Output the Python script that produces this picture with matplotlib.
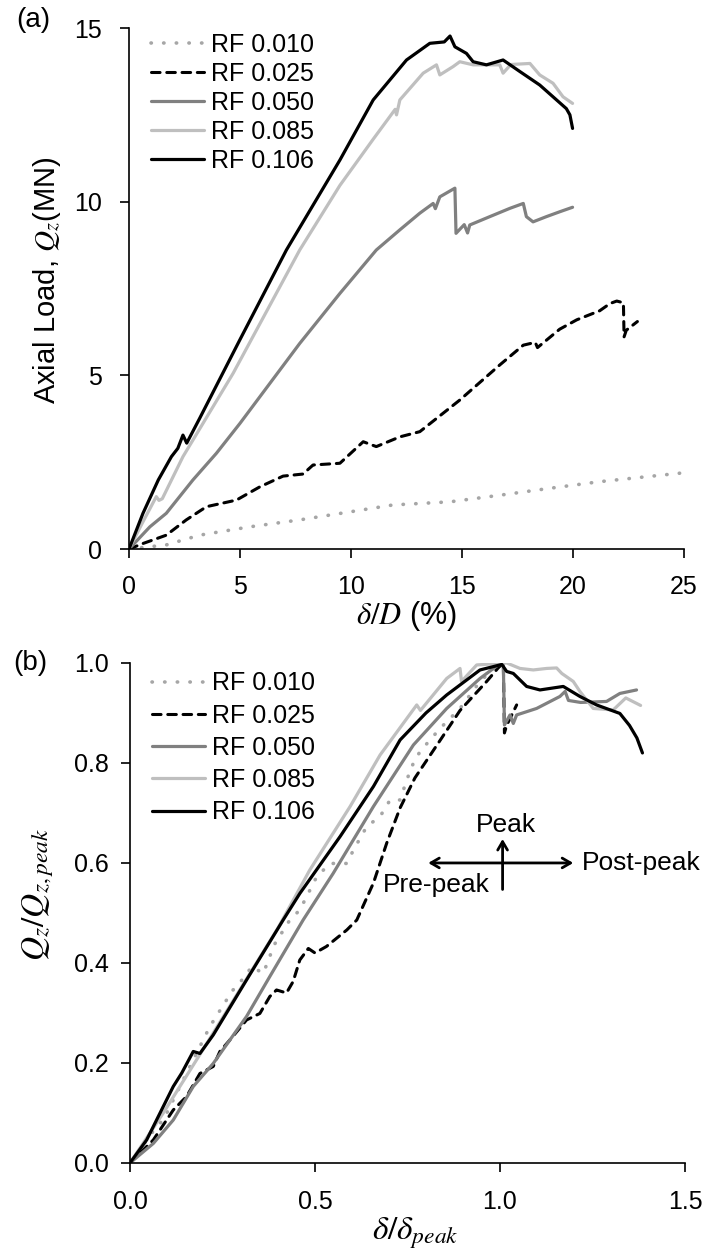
import matplotlib
matplotlib.use("Agg")
import matplotlib.pyplot as plt
from matplotlib.ticker import FormatStrFormatter

plt.rcParams['font.family'] = ['Liberation Sans', 'DejaVu Sans']
plt.rcParams['mathtext.fontset'] = 'stix'

labels = ['RF 0.010', 'RF 0.025', 'RF 0.050', 'RF 0.085', 'RF 0.106']
colors = ['#a6a6a6', 'black', '#808080', '#bfbfbf', 'black']

# (a) axial load vs normalised settlement
x010 = [0, 1.68, 3.18, 5.44, 7.69, 9.94, 11.89, 14.46, 16.7, 18.96, 21.2, 24.9]
y010 = [0, 0.12, 0.4, 0.64, 0.84, 1.07, 1.27, 1.36, 1.55, 1.75, 1.94, 2.19]

x025 = [0, 0.63, 1.68, 2.58, 3.49, 4.84, 5.89, 6.94, 7.84, 8.29, 9.5, 10.55, 11.14,
        12.2, 13.1, 14.9, 16.7, 17.76, 18.3, 18.4, 19.4, 20.17, 21.2, 21.67, 21.97,
        22.27, 22.3, 22.4, 22.9]
y025 = [0, 0.16, 0.4, 0.84, 1.22, 1.41, 1.79, 2.1, 2.16, 2.42, 2.47, 3.09, 2.95,
        3.23, 3.38, 4.29, 5.3, 5.87, 5.95, 5.8, 6.33, 6.6, 6.86, 7.07, 7.14,
        7.09, 6.11, 6.3, 6.55]

x050 = [0, 0.94, 1.68, 2.88, 3.94, 5.0, 7.69, 9.5, 11.14, 12.2, 13.1, 13.7, 13.8,
        14.0, 14.68, 14.73, 15.1, 15.25, 15.35, 16.25, 17.16, 17.76, 17.9, 18.2,
        18.8, 19.4, 19.98]
y050 = [0, 0.64, 1.03, 1.99, 2.76, 3.62, 5.92, 7.36, 8.61, 9.19, 9.67, 9.95, 9.8,
        10.14, 10.39, 9.09, 9.34, 9.1, 9.33, 9.57, 9.81, 9.95, 9.57, 9.42,
        9.57, 9.71, 9.84]

x085 = [0, 0.6, 1.23, 1.35, 1.5, 2.43, 4.69, 7.69, 9.5, 11.0, 11.99, 12.05, 12.2,
        13.25, 13.85, 14.0, 14.6, 14.9, 15.5, 16.7, 16.85, 17.2, 18.06, 18.5, 19.1,
        19.55, 19.98]
y085 = [0, 0.75, 1.51, 1.4, 1.45, 2.66, 5.06, 8.61, 10.47, 11.8, 12.66, 12.5, 12.93,
        13.7, 13.94, 13.65, 13.89, 14.03, 13.94, 13.94, 13.7, 13.95, 13.98, 13.65, 13.41,
        13.02, 12.83]

x106 = [0, 0.63, 1.32, 1.91, 2.2, 2.43, 2.6, 3.18, 4.99, 7.09, 9.5, 11.0, 12.5, 13.55,
        14.2, 14.46, 14.68, 15.2, 15.5, 16.1, 16.85, 17.6, 18.5, 19.1, 19.7, 19.86, 19.98]
y106 = [0, 1.03, 1.99, 2.66, 2.9, 3.28, 3.05, 3.76, 6.02, 8.61, 11.2, 12.93, 14.08, 14.56,
        14.6, 14.77, 14.46, 14.27, 14.03, 13.94, 14.08, 13.75, 13.36, 13.02, 12.68, 12.5, 12.11]

# (b) normalised by peak values
bx010 = [0, 0.072, 0.09, 0.216, 0.261, 0.275, 0.311, 0.329, 0.36, 0.378, 0.387, 0.432,
         0.459, 0.505, 0.541, 0.586, 0.604, 0.64, 0.676, 0.703, 0.73, 0.748, 0.766,
         0.784, 0.838, 0.892, 0.946, 1.0]
by010 = [0, 0.073, 0.086, 0.273, 0.326, 0.343, 0.373, 0.393, 0.379, 0.413, 0.433, 0.486,
         0.506, 0.573, 0.599, 0.599, 0.626, 0.673, 0.693, 0.726, 0.726, 0.766, 0.8,
         0.823, 0.869, 0.909, 0.963, 1.0]

bx025 = [0, 0.063, 0.117, 0.153, 0.189, 0.225, 0.243, 0.27, 0.315, 0.351, 0.378, 0.396,
         0.423, 0.441, 0.459, 0.482, 0.5, 0.531, 0.586, 0.613, 0.658, 0.694, 0.73, 0.77,
         0.838, 0.892, 0.964, 0.995, 1.009, 1.012, 1.018, 1.045]
by025 = [0, 0.046, 0.106, 0.133, 0.179, 0.193, 0.223, 0.246, 0.286, 0.299, 0.333, 0.346,
         0.34, 0.363, 0.406, 0.429, 0.42, 0.433, 0.466, 0.486, 0.56, 0.64, 0.71, 0.77,
         0.845, 0.905, 0.963, 0.99, 1.0, 0.86, 0.875, 0.916]

bx050 = [0, 0.063, 0.117, 0.171, 0.225, 0.315, 0.378, 0.468, 0.549, 0.658, 0.766, 0.856,
         0.946, 0.995, 1.009, 1.012, 1.027, 1.036, 1.045, 1.099, 1.162, 1.176, 1.185,
         1.218, 1.288, 1.324, 1.369]
by050 = [0, 0.039, 0.086, 0.153, 0.199, 0.293, 0.373, 0.486, 0.579, 0.713, 0.836, 0.909,
         0.969, 0.996, 0.998, 0.876, 0.896, 0.879, 0.896, 0.909, 0.933, 0.943, 0.925,
         0.921, 0.923, 0.939, 0.946]

bx085 = [0, 0.09, 0.2, 0.3, 0.4, 0.486, 0.595, 0.676, 0.775, 0.785, 0.856, 0.892, 0.896,
         0.937, 1.018, 1.054, 1.09, 1.126, 1.153, 1.167, 1.198, 1.216, 1.252, 1.306,
         1.34, 1.38]
by085 = [0, 0.1, 0.23, 0.35, 0.47, 0.586, 0.713, 0.816, 0.916, 0.905, 0.969, 0.989, 0.963,
         0.996, 1.0, 0.989, 0.986, 0.989, 0.99, 0.979, 0.963, 0.943, 0.909, 0.906,
         0.93, 0.915]

bx106 = [0, 0.045, 0.09, 0.117, 0.14, 0.171, 0.189, 0.225, 0.315, 0.414, 0.459, 0.568,
         0.658, 0.73, 0.8, 0.856, 0.946, 1.005, 1.018, 1.036, 1.072, 1.108, 1.171,
         1.216, 1.261, 1.324, 1.35, 1.37, 1.385]
by106 = [0, 0.046, 0.113, 0.153, 0.18, 0.223, 0.219, 0.256, 0.366, 0.486, 0.539, 0.653,
         0.753, 0.846, 0.9, 0.936, 0.986, 0.997, 0.983, 0.979, 0.953, 0.946, 0.953,
         0.933, 0.916, 0.899, 0.875, 0.85, 0.82]

top_series = [(x010, y010), (x025, y025), (x050, y050), (x085, y085), (x106, y106)]
bot_series = [(bx010, by010), (bx025, by025), (bx050, by050), (bx085, by085), (bx106, by106)]


def styled_plot(ax, x, y, i):
    if i == 0:
        ax.plot(x, y, color=colors[i], lw=2.6, linestyle=(0, (0.1, 3.4)),
                dash_capstyle='round', label=labels[i])
    elif i == 1:
        ax.plot(x, y, color=colors[i], lw=2.2, linestyle=(0, (2.8, 2.2)),
                dash_capstyle='round', label=labels[i])
    else:
        ax.plot(x, y, color=colors[i], lw=2.3, solid_capstyle='round', label=labels[i])


def style_axes(ax):
    ax.spines['top'].set_visible(False)
    ax.spines['right'].set_visible(False)
    ax.spines['left'].set_linewidth(1.2)
    ax.spines['bottom'].set_linewidth(1.2)
    ax.tick_params(direction='out', length=6.5, width=1.2, labelsize=18)


fig = plt.figure(figsize=(7.03, 12.57), dpi=100)

ax1 = fig.add_axes([0.1835, 0.5632, 0.7895, 0.4145])
for i, (x, y) in enumerate(top_series):
    styled_plot(ax1, x, y, i)
ax1.set_xlim(0, 25)
ax1.set_ylim(0, 15)
ax1.set_xticks([0, 5, 10, 15, 20, 25])
ax1.set_yticks([0, 5, 10, 15])
style_axes(ax1)
ax1.tick_params(axis='y', pad=13)
ax1.tick_params(axis='x', pad=12)
ax1.legend(loc='upper left', bbox_to_anchor=(0.04, 0.99), frameon=False, fontsize=18,
           handlelength=2.1, handletextpad=0.3, labelspacing=0.2, borderpad=0,
           borderaxespad=0)

ax2 = fig.add_axes([0.1849, 0.0748, 0.7895, 0.3978])
for i, (x, y) in enumerate(bot_series):
    styled_plot(ax2, x, y, i)
ax2.set_xlim(0, 1.5)
ax2.set_ylim(0, 1.0)
ax2.set_xticks([0, 0.5, 1.0, 1.5])
ax2.set_yticks([0, 0.2, 0.4, 0.6, 0.8, 1.0])
ax2.xaxis.set_major_formatter(FormatStrFormatter('%.1f'))
ax2.yaxis.set_major_formatter(FormatStrFormatter('%.1f'))
style_axes(ax2)
ax2.tick_params(axis='y', pad=9)
ax2.tick_params(axis='x', pad=13)
ax2.legend(loc='upper left', bbox_to_anchor=(0.04, 0.983), frameon=False, fontsize=18,
           handlelength=2.1, handletextpad=0.3, labelspacing=0.33, borderpad=0,
           borderaxespad=0)

# peak annotation
ax2.annotate('', xy=(0.806, 0.6), xytext=(1.198, 0.6),
             arrowprops=dict(arrowstyle='<->, head_length=0.6, head_width=0.35',
                             color='black', lw=2, shrinkA=0, shrinkB=0))
ax2.annotate('', xy=(1.007, 0.648), xytext=(1.007, 0.547),
             arrowprops=dict(arrowstyle='->, head_length=0.6, head_width=0.35',
                             color='black', lw=2, shrinkA=0, shrinkB=0))
ax2.text(1.016, 0.676, 'Peak', fontsize=19, ha='center', va='center')
ax2.text(1.222, 0.6, 'Post-peak', fontsize=19, ha='left', va='center', clip_on=False)
ax2.text(0.683, 0.556, 'Pre-peak', fontsize=19, ha='left', va='center')

# axis titles
fig.text(47 / 703, 1 - 280 / 1257, 'Axial Load, $Q_z$(MN)', rotation=90,
         fontsize=21, ha='center', va='center')
fig.text(406 / 703, 1 - 616 / 1257, r'$\delta/D$ (%)', fontsize=22,
         ha='center', va='center')
fig.text(38 / 703, 1 - 895 / 1257, r'$Q_z/Q_{z,peak}$', rotation=90,
         fontsize=24, ha='center', va='center')
fig.text(415 / 703, 1 - 1233 / 1257, r'$\delta/\delta_{peak}$', fontsize=24,
         ha='center', va='center')

fig.text(33 / 703, 1 - 20 / 1257, '(a)', fontsize=20, ha='center', va='center')
fig.text(30 / 703, 1 - 663 / 1257, '(b)', fontsize=20, ha='center', va='center')

fig.savefig('out.png', dpi=100)
